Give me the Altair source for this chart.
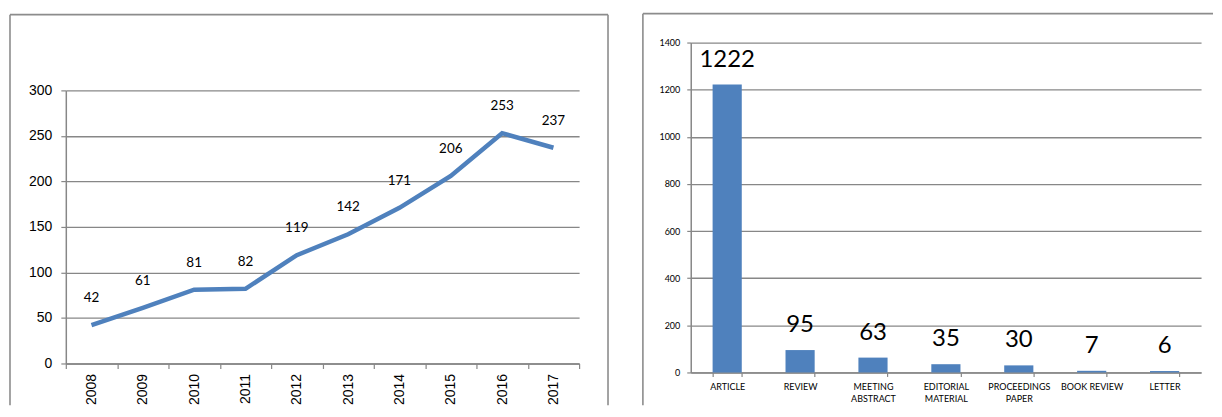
import altair as alt
import pandas as pd

# ---- data ----
years = ["2008", "2009", "2010", "2011", "2012", "2013", "2014", "2015", "2016", "2017"]
year_counts = [42, 61, 81, 82, 119, 142, 171, 206, 253, 237]

doc_types = ["ARTICLE", "REVIEW", "MEETING ABSTRACT", "EDITORIAL MATERIAL",
             "PROCEEDINGS PAPER", "BOOK REVIEW", "LETTER"]
doc_counts = [1222, 95, 63, 35, 30, 7, 6]

left_ticks = [0, 50, 100, 150, 200, 250, 300]
right_ticks = [0, 200, 400, 600, 800, 1000, 1200, 1400]

BLUE = "#4F81BD"
GRID = "#878787"
FRAME = "#8C8C8C"

df_years = pd.DataFrame({"year": years, "count": year_counts})
df_types = pd.DataFrame({"type": doc_types, "n": doc_counts})
one = pd.DataFrame({"k": [0]})

W1, H1 = 515, 322
W2, H2 = 512, 331


def frame_rule(x, x2, y, y2):
    return alt.Chart(one).mark_rule(color=FRAME, strokeWidth=1.6).encode(
        x=alt.value(x), x2=alt.value(x2), y=alt.value(y), y2=alt.value(y2)
    )


# ---- left: line chart ----
x1 = alt.X(
    "year:N", sort=years, bandPosition=0.5,
    scale=alt.Scale(type="band", paddingInner=0, paddingOuter=0),
    axis=alt.Axis(
        title=None, labelAngle=-90, labelAlign="right", labelBaseline="middle",
        labelFont="Liberation Sans", labelFontSize=14, labelColor="#000000",
        labelPadding=5, tickBand="extent", tickSize=5, tickColor=GRID,
        tickWidth=1.2, domainColor=GRID, domainWidth=1.5, grid=False,
    ),
)
y1 = alt.Y(
    "count:Q",
    scale=alt.Scale(domain=[0, 300], range=[H1, 48], nice=False, zero=True),
    axis=alt.Axis(
        values=left_ticks, format="d", title=None, grid=True, gridColor=GRID, gridWidth=1.3,
        labelFont="Liberation Sans", labelFontSize=14, labelColor="#000000",
        labelPadding=9, tickSize=5, tickColor=GRID, tickWidth=1.2,
        domainColor=GRID, domainWidth=1.5,
    ),
)

line = alt.Chart(df_years).mark_line(color=BLUE, strokeWidth=4.5).encode(x=x1, y=y1)
line_labels = alt.Chart(df_years).mark_text(
    dy=-23, baseline="alphabetic", font="Lato", fontSize=13.5, color="#000000"
).encode(x=x1, y=y1, text="count:Q")

left = alt.layer(
    frame_rule(-56, -56, -28, 364),
    frame_rule(-56, 544, -28, -28),
    frame_rule(544, 544, -28, 364),
    line, line_labels,
).properties(width=W1, height=H1)

# ---- right: bar chart ----
x2 = alt.X(
    "type:N", sort=doc_types,
    scale=alt.Scale(paddingInner=0.6, paddingOuter=0.3),
    axis=alt.Axis(
        title=None, labelAngle=0,
        labelExpr="datum.label == 'BOOK REVIEW' ? datum.label : split(datum.label, ' ')",
        labelFont="Lato", labelFontSize=9, labelLineHeight=12, labelColor="#000000",
        labelPadding=6, tickBand="extent", tickSize=4, tickColor=GRID, tickWidth=1.2,
        domainColor=GRID, domainWidth=1.5, grid=False,
    ),
)
y2 = alt.Y(
    "n:Q",
    scale=alt.Scale(domain=[0, 1400], nice=False),
    axis=alt.Axis(
        values=right_ticks, format="d", title=None, grid=True, gridColor=GRID, gridWidth=1.3,
        labelFont="Lato", labelFontSize=9, labelColor="#000000", labelPadding=7,
        tickSize=4, tickColor=GRID, tickWidth=1.2, domainColor=GRID, domainWidth=1.5,
    ),
)

bars = alt.Chart(df_types).mark_bar(color=BLUE).encode(x=x2, y=y2)
bar_labels = alt.Chart(df_types).mark_text(
    dy=-18, baseline="alphabetic", font="Lato", fontSize=24, color="#000000"
).encode(x=x2, y=y2, text="n:Q")

right = alt.layer(
    frame_rule(-48, -48, -29, 364),
    frame_rule(-48, 524, -29, -29),
    bars, bar_labels,
).properties(width=W2, height=H2)

chart = alt.hconcat(left, right, spacing=33).properties(
    padding={"left": 1, "top": 4, "right": 0, "bottom": 0}
).configure_view(stroke=None)

chart.save("out.html", embed_options={"renderer": "svg", "actions": False})
